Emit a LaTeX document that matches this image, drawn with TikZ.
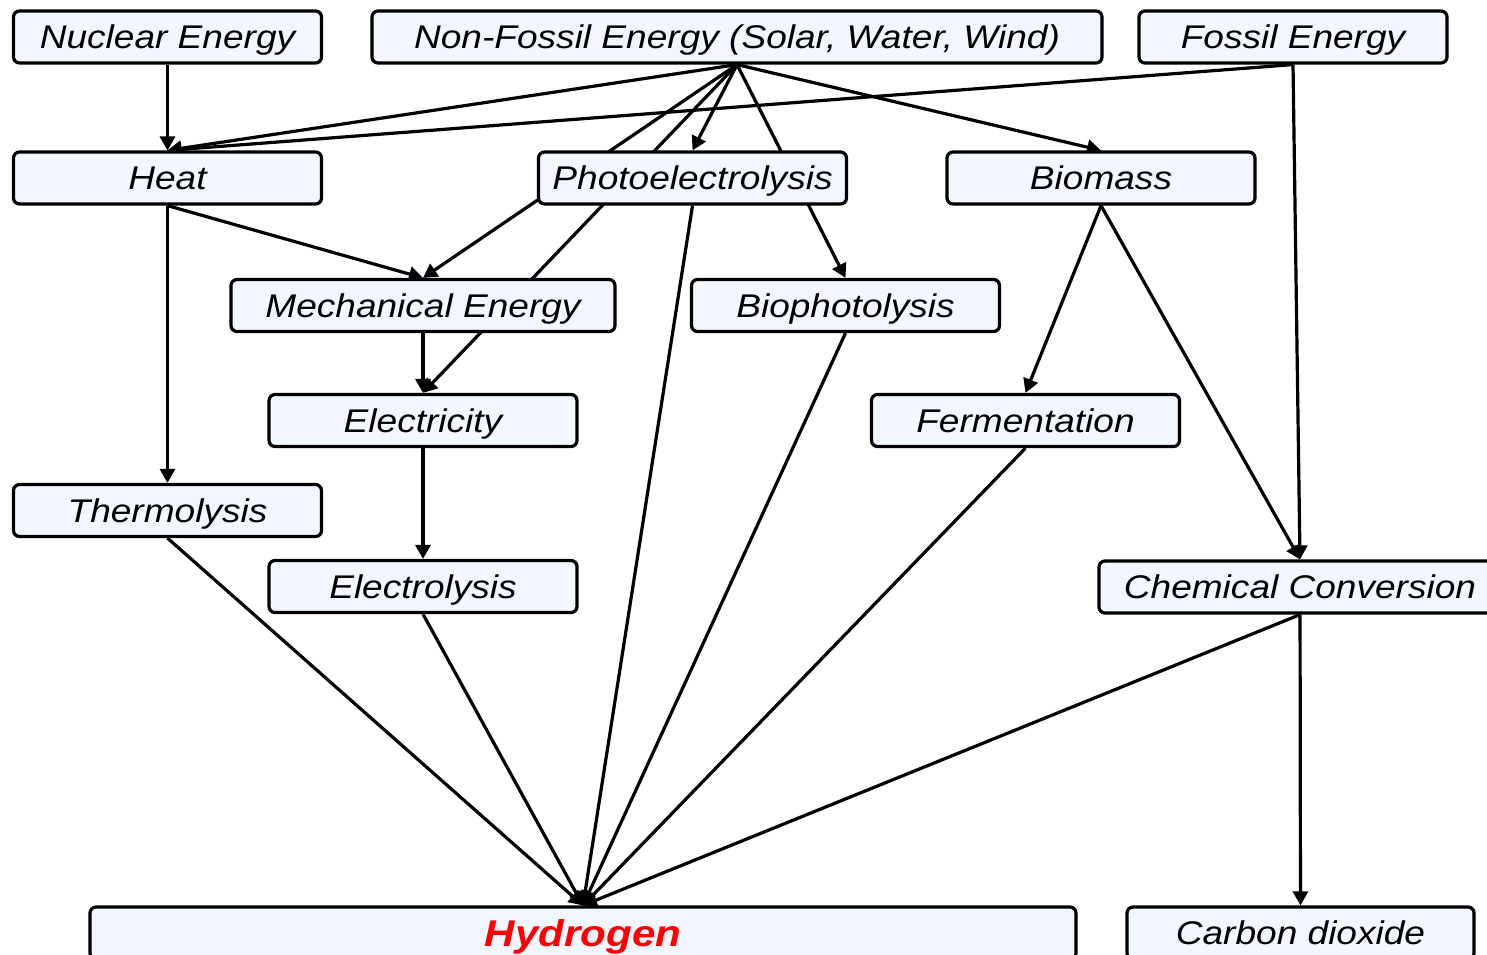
\documentclass[tikz,border=0pt]{standalone}
\usepackage{fontspec}
\setmainfont{Liberation Sans}[FakeStretch=1.13]
\usetikzlibrary{arrows.meta, backgrounds}
\definecolor{boxfill}{RGB}{242,246,255}

\begin{document}
\begin{tikzpicture}[x=0.5pt, y=-0.5pt, >={Triangle[length=7pt,width=7.5pt]},
    box/.style={draw=black, fill=boxfill, line width=1.6pt, rounded corners=3pt,
        minimum width=154pt, minimum height=26pt, inner sep=0pt,
        text height=11.6pt, text depth=0pt,
        font=\fontsize{16.4}{18}\selectfont\itshape}]

\useasboundingbox (0,0) rectangle (1487,954);

\node [box] (nuclear) at (167.5,37) {Nuclear Energy};
\node [box, minimum width=365pt] (nonfossil) at (737,37) {Non-Fossil Energy (Solar, Water, Wind)};
\node [box] (fossil) at (1293,37) {Fossil Energy};

\node [box] (heat) at (167.5,178) {Heat};
\node [box] (photo) at (692.5,178) {Photoelectrolysis};
\node [box] (biomass) at (1101,178) {Biomass};

\node [box, minimum width=192pt] (mech) at (423,305.5) {Mechanical Energy};
\node [box] (biophoto) at (845.5,305.5) {Biophotolysis};

\node [box] (elec) at (423,420.5) {Electricity};
\node [box] (ferment) at (1025.5,420.5) {Fermentation};

\node [box] (thermo) at (167.5,510.5) {Thermolysis};
\node [box] (electrolysis) at (423,586.5) {Electrolysis};
\node [box, minimum width=201pt] (chem) at (1300,587) {Chemical Conversion};

\node [box, minimum width=493pt, text height=13.3pt, font=\fontsize{18.6}{20}\selectfont\bfseries\itshape, text=red] (hydrogen) at (583,933) {Hydrogen};
\node [box, minimum width=173.5pt] (co2) at (1300.5,933) {Carbon dioxide};

\begin{scope}[on background layer]
\begin{scope}[line width=1.6pt]
\draw[->] (nuclear)--(heat);
\draw[->] (nonfossil.south)--(heat.north);
\draw[->] (fossil.south)--(heat.north);

\draw[->] (nonfossil.south)--(photo.north);
\draw[->] (nonfossil.south)--(mech.north);
\draw[->] (nonfossil.south)--(elec.north);
\draw[->] (nonfossil.south)--(biophoto.north);
\draw[->] (nonfossil.south)--(biomass.north);

\draw[->] (heat.south)--(mech.north);
\draw[->] (heat)--(thermo);
\draw[->] (mech)--(elec);
\draw[->] (elec)--(electrolysis);

\draw[->] (biomass.south)--(ferment.north);
\draw[->] (biomass.south)--(chem.north);
\draw[->] (fossil.south)--(chem.north);
\draw[->] (chem)--(co2);

\draw[->] (thermo.south)--(hydrogen.north);
\draw[->] (electrolysis.south)--(hydrogen.north);
\draw[->] (photo.south)--(hydrogen.north);
\draw[->] (biophoto.south)--(hydrogen.north);
\draw[->] (ferment.south)--(hydrogen.north);
\draw[->] (chem.south)--(hydrogen.north);
\end{scope}
\end{scope}

\end{tikzpicture}
\end{document}
